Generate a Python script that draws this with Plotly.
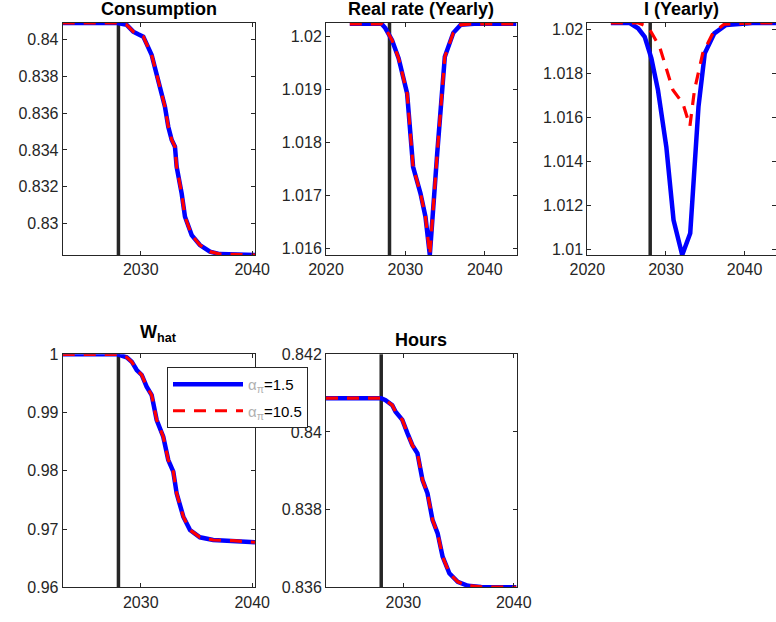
import plotly.graph_objects as go

# ---------------- data ----------------
scenario_labels = ["1.5", "10.5"]
shock_year = 2028.0

cons_x = [2023, 2027.93, 2028.74, 2029.33, 2029.78, 2030.23, 2030.98, 2031.57, 2032.17, 2032.47,
          2032.78, 2033.07, 2033.22, 2033.67, 2033.97, 2034.57, 2035.31, 2036.21, 2037.10, 2040.25]
cons_a15 = [0.84088, 0.84088, 0.84078, 0.84041, 0.84027, 0.84014, 0.83915, 0.83779, 0.83635, 0.83526,
            0.83454, 0.83418, 0.83309, 0.83165, 0.83038, 0.82939, 0.82885, 0.82849, 0.82836, 0.82831]
cons_a105 = [0.84088, 0.84088, 0.84078, 0.84041, 0.84027, 0.84014, 0.83915, 0.83779, 0.83635, 0.83526,
             0.83454, 0.83418, 0.83309, 0.83165, 0.83038, 0.82939, 0.82885, 0.82849, 0.82836, 0.82831]

rr_x = [2023, 2027.0, 2027.47, 2028.32, 2029.15, 2030.22, 2030.97, 2031.9, 2032.53, 2033.08,
        2034.01, 2034.97, 2036.04, 2036.96, 2038.65, 2044]
rr_a15 = [1.02023, 1.02023, 1.02015, 1.01992, 1.01958, 1.01892, 1.01754, 1.01704, 1.01660, 1.01588,
          1.01779, 1.01961, 1.02006, 1.02021, 1.02023, 1.02023]
rr_a105 = [1.02023, 1.02023, 1.02015, 1.01992, 1.01958, 1.01892, 1.01754, 1.01704, 1.01660, 1.01588,
           1.01779, 1.01961, 1.02006, 1.02021, 1.02023, 1.02023]

i_x_a15 = [2023, 2025.4, 2026.46, 2027.3, 2028.15, 2028.99, 2030.05, 2030.97, 2032.07, 2033.09,
           2034.14, 2034.94, 2036.16, 2037.65, 2041.0, 2044]
i_a15 = [1.02029, 1.02029, 1.02005, 1.01966, 1.01868, 1.01724, 1.01466, 1.01133, 1.00974, 1.01073,
         1.01648, 1.01891, 1.01982, 1.0202, 1.02029, 1.02029]
i_x_a105 = [2023, 2026.5, 2027.73, 2029.2, 2030.89, 2032.15, 2033.05, 2033.63, 2034.68, 2035.95,
            2037.43, 2041, 2044]
i_a105 = [1.02029, 1.02029, 1.02012, 1.01921, 1.01724, 1.01664, 1.01560, 1.01724, 1.01891, 1.01982,
          1.02024, 1.02029, 1.02029]

w_x = [2023, 2027.93, 2028.74, 2029.19, 2029.64, 2030.09, 2030.53, 2030.98, 2031.43, 2032.02,
       2032.47, 2032.92, 2033.22, 2033.82, 2034.42, 2035.31, 2036.5, 2038.3, 2040.25]
w_a15 = [1.0, 1.0, 0.99948, 0.99873, 0.9973, 0.99645, 0.99444, 0.99301, 0.98872, 0.98585,
         0.98185, 0.97985, 0.97614, 0.97212, 0.96984, 0.96858, 0.96812, 0.968, 0.96773]
w_a105 = [1.0, 1.0, 0.99948, 0.99873, 0.9973, 0.99645, 0.99444, 0.99301, 0.98872, 0.98585,
          0.98185, 0.97985, 0.97614, 0.97212, 0.96984, 0.96858, 0.96812, 0.968, 0.96773]

h_x = [2023, 2028.0, 2028.39, 2029.0, 2029.3, 2029.91, 2030.37, 2030.82, 2031.28, 2031.74,
       2032.19, 2032.65, 2033.11, 2033.56, 2034.17, 2034.93, 2035.85, 2037.06, 2040.25]
h_a15 = [0.84087, 0.84087, 0.84082, 0.84069, 0.84052, 0.84031, 0.83997, 0.83966, 0.83945, 0.83876,
         0.83842, 0.83773, 0.83739, 0.83679, 0.83636, 0.83614, 0.83604, 0.83601, 0.836]
h_a105 = [0.84087, 0.84087, 0.84082, 0.84069, 0.84052, 0.84031, 0.83997, 0.83966, 0.83945, 0.83876,
          0.83842, 0.83773, 0.83739, 0.83679, 0.83636, 0.83614, 0.83604, 0.83601, 0.836]

titles = ["Consumption", "Real rate (Yearly)", "I (Yearly)", "W<sub>hat</sub>", "Hours"]

cons_ticks = [0.83, 0.832, 0.834, 0.836, 0.838, 0.84]
rr_ticks = [1.016, 1.017, 1.018, 1.019, 1.02]
i_ticks = [1.01, 1.012, 1.014, 1.016, 1.018, 1.02]
w_ticks = [0.96, 0.97, 0.98, 0.99, 1.0]
h_ticks = [0.836, 0.838, 0.84, 0.842]
x_ticks_short = [2030, 2040]
x_ticks_long = [2020, 2030, 2040]

# ---------------- layout geometry ----------------
W, H = 776, 622
BLUE = "#0000ff"
RED = "#ff0000"
AX = "#262626"
FONT = "Liberation Sans, Arial, Helvetica, sans-serif"


def fx(px):
    return px / W


def fy(py):
    return 1 - py / H


panels = [
    ("", (62.7, 255.0), (23, 255), [2023, 2040.25], [0.82831, 0.84088], cons_ticks, x_ticks_short),
    ("2", (326.0, 516.5), (23, 255), [2020, 2044], [1.01588, 1.020245], rr_ticks, x_ticks_long),
    ("3", (587.3, 776.0), (23, 255), [2020, 2044], [1.00974, 1.02029], i_ticks, x_ticks_long),
    ("4", (62.7, 255.0), (354.3, 587.3), [2023, 2040.25], [0.96, 1.0], w_ticks, x_ticks_short),
    ("5", (326.0, 516.5), (354.3, 587.3), [2023, 2040.25], [0.836, 0.842], h_ticks, x_ticks_short),
]

series = [
    (cons_x, cons_a15, cons_x, cons_a105),
    (rr_x, rr_a15, rr_x, rr_a105),
    (i_x_a15, i_a15, i_x_a105, i_a105),
    (w_x, w_a15, w_x, w_a105),
    (h_x, h_a15, h_x, h_a105),
]

sym = '<span style="color:#b0b0b0">α<sub>π</sub></span>'

fig = go.Figure()
layout = dict(
    width=W, height=H,
    margin=dict(l=0, r=0, t=0, b=0, autoexpand=False),
    paper_bgcolor="white", plot_bgcolor="white",
    font=dict(family=FONT, size=16, color=AX),
    annotations=[], shapes=[],
)


def fmt(v):
    return ("%.3f" % v).rstrip("0").rstrip(".")


for k, (pid, (x0, x1), (y0, y1), xr, yr, yt, xt) in enumerate(panels):
    xa = "x" + pid
    ya = "y" + pid
    xs1, ys1, xs2, ys2 = series[k]
    fig.add_trace(go.Scatter(x=xs1, y=ys1, mode="lines", xaxis=xa, yaxis=ya,
                             line=dict(color=BLUE, width=4.5), legendgroup="a",
                             name=sym + "=" + scenario_labels[0], showlegend=(k == 3)))
    fig.add_trace(go.Scatter(x=xs2, y=ys2, mode="lines", xaxis=xa, yaxis=ya,
                             line=dict(color=RED, width=3.2, dash="12px,9px"), legendgroup="b",
                             name=sym + "=" + scenario_labels[1], showlegend=(k == 3)))
    common = dict(showgrid=False, zeroline=False, showline=True, linecolor=AX, linewidth=1,
                  mirror="ticks", ticks="inside", ticklen=4, tickcolor=AX, tickwidth=1,
                  automargin=False,
                  tickfont=dict(family=FONT, size=16, color=AX))
    layout["xaxis" + pid] = dict(domain=[fx(x0), fx(x1)], range=xr, anchor=ya,
                                 tickvals=xt, ticktext=[str(t) for t in xt], **common)
    layout["yaxis" + pid] = dict(domain=[fy(y1), fy(y0)], range=yr, anchor=xa,
                                 tickvals=yt, ticktext=[fmt(t) for t in yt], **common)
    layout["shapes"].append(dict(type="line", xref=xa, yref=ya + " domain",
                                 x0=shock_year, x1=shock_year, y0=0, y1=1,
                                 line=dict(color=AX, width=3.5), layer="below"))
    ty = y0 - 14 if k != 3 else y0 - 21
    layout["annotations"].append(dict(text="<b>" + titles[k] + "</b>", xref="paper", yref="paper",
                                      x=fx((x0 + x1) / 2), y=fy(ty), xanchor="center",
                                      yanchor="middle", showarrow=False,
                                      font=dict(family=FONT, size=18, color="black")))

layout["legend"] = dict(x=fx(167), y=fy(367), xanchor="left", yanchor="top",
                        bgcolor="white", bordercolor=AX, borderwidth=1,
                        font=dict(family=FONT, size=15, color="black"),
                        itemwidth=70, tracegroupgap=4)
fig.update_layout(**layout)
fig.write_html("out.html", post_script="document.body.style.margin='0px';",
               config={"displayModeBar": False})
